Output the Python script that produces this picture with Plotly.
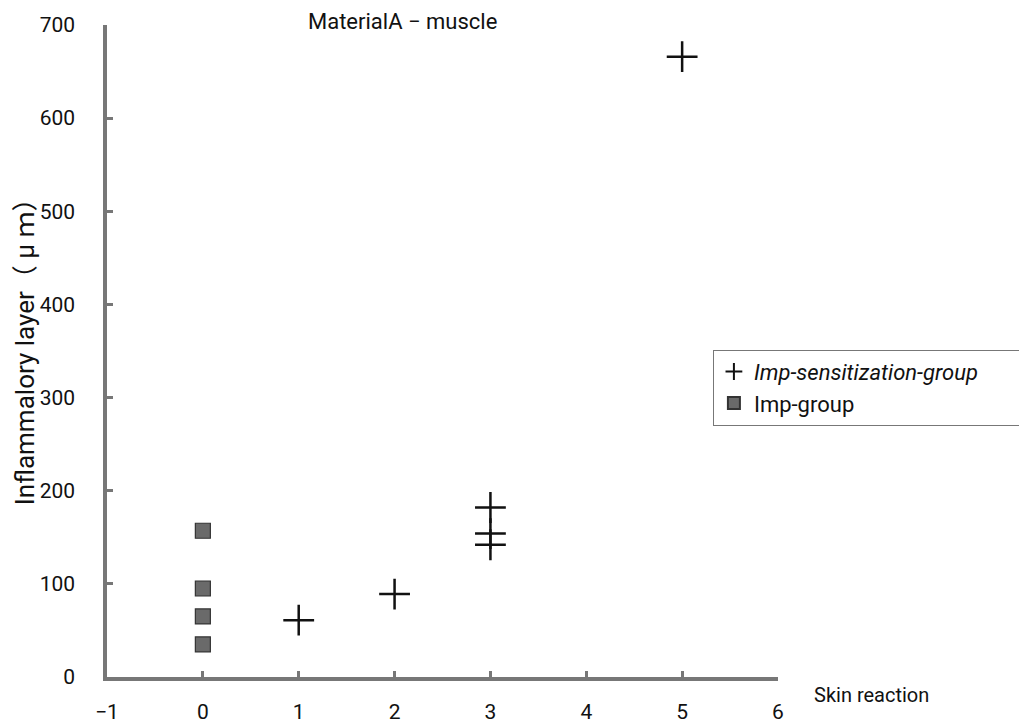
import plotly.graph_objects as go

# Data
sens_x = [1, 2, 3, 3, 3, 5]
sens_y = [61, 89, 182, 154, 142, 666]
imp_x = [0, 0, 0, 0]
imp_y = [157, 95, 65, 35]

x_ticks = [-1, 0, 1, 2, 3, 4, 5, 6]
y_ticks = [0, 100, 200, 300, 400, 500, 600, 700]

FONT = "Roboto, 'Noto Sans CJK JP', sans-serif"
PAD = "&nbsp;" * 12

fig = go.Figure()
fig.add_trace(go.Scatter(
    x=sens_x, y=sens_y, mode="markers",
    name="<i>Imp-sensitization-group</i>" + PAD,
    marker=dict(symbol="cross-thin", size=22, line=dict(color="#111", width=2.5), color="#111"),
))
fig.add_trace(go.Scatter(
    x=imp_x, y=imp_y, mode="markers",
    name="Imp-group",
    marker=dict(symbol="square", size=15, color="#6a6a6a", line=dict(color="#333", width=1.2)),
))

fig.update_layout(
    width=1019, height=727,
    margin=dict(l=107, r=241, t=25, b=50, autoexpand=False),
    paper_bgcolor="white", plot_bgcolor="white",
    font=dict(family=FONT, size=20, color="#111"),
    showlegend=True,
    legend=dict(
        x=0.903, y=0.502, xanchor="left", yanchor="top",
        bordercolor="#777", borderwidth=1, bgcolor="white",
        font=dict(family=FONT, size=22, color="#111"),
        itemsizing="constant", tracegroupgap=0, itemwidth=30,
    ),
    xaxis=dict(
        range=[-1, 6], tickvals=x_ticks, ticktext=[("−1" if v == -1 else str(v)) for v in x_ticks],
        showgrid=False, zeroline=False, automargin=False,
        showline=True, linecolor="#777", linewidth=3.5,
        ticks="inside", ticklen=6, tickwidth=3, tickcolor="#777",
        tickfont=dict(family=FONT, size=21, color="#111"),
        ticklabelstandoff=13,
    ),
    yaxis=dict(
        range=[0, 700], tickvals=y_ticks,
        showgrid=False, zeroline=False, automargin=False,
        showline=True, linecolor="#777", linewidth=3.5,
        ticks="inside", ticklen=6, tickwidth=3, tickcolor="#777",
        tickfont=dict(family=FONT, size=21, color="#111"),
        ticklabelstandoff=24,
    ),
    annotations=[
        dict(text="MaterialA − muscle", xref="paper", yref="paper", x=0.441, y=1.005,
             xanchor="center", yanchor="middle", showarrow=False,
             font=dict(family=FONT, size=22, color="#111")),
        dict(text="Skin reaction", xref="paper", yref="paper", x=1.139, y=-0.028,
             xanchor="center", yanchor="middle", showarrow=False,
             font=dict(family=FONT, size=20, color="#111")),
        dict(text="Inflammalory layer（ μ ｍ）", xref="paper", yref="paper", x=-0.122, y=0.509,
             xanchor="center", yanchor="middle", showarrow=False, textangle=-90,
             font=dict(family=FONT, size=26, color="#111")),
    ],
)

fig.write_html("out.html")
